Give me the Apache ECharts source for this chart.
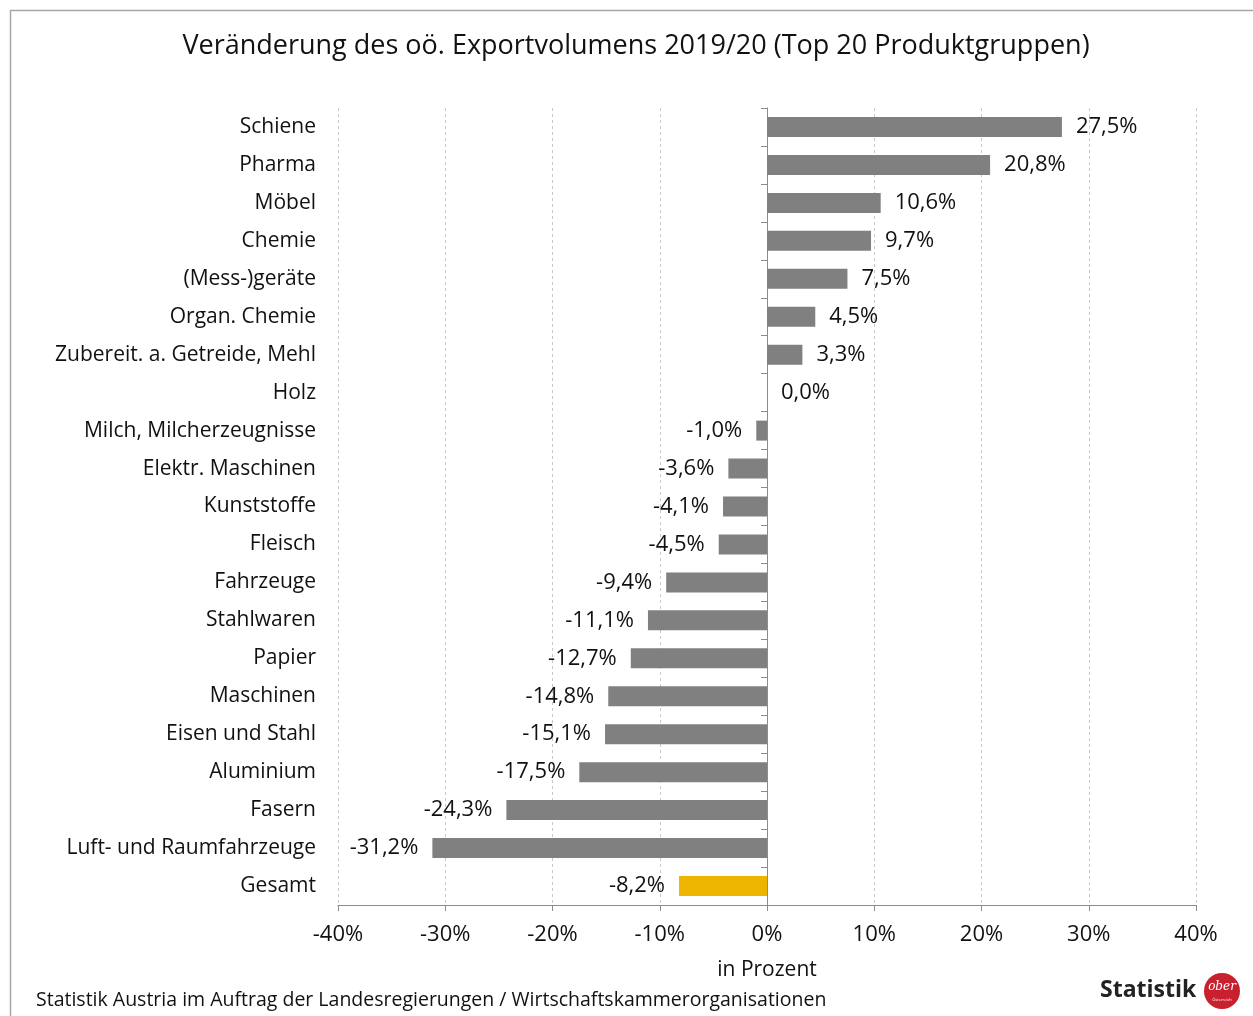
<!DOCTYPE html>
<html>
<head>
<meta charset="utf-8">
<script src="https://cdn.jsdelivr.net/npm/echarts@6/dist/echarts.min.js"></script>
<style>
  html, body { margin: 0; padding: 0; background: #fff; }
  #main { width: 1253px; height: 1016px; }
</style>
</head>
<body>
<div id="main"></div>
<script>
var categories = ['Schiene', 'Pharma', 'Möbel', 'Chemie', '(Mess-)geräte', 'Organ. Chemie',
  'Zubereit. a. Getreide, Mehl', 'Holz', 'Milch, Milcherzeugnisse', 'Elektr. Maschinen',
  'Kunststoffe', 'Fleisch', 'Fahrzeuge', 'Stahlwaren', 'Papier', 'Maschinen',
  'Eisen und Stahl', 'Aluminium', 'Fasern', 'Luft- und Raumfahrzeuge', 'Gesamt'];
var values = [27.5, 20.8, 10.6, 9.7, 7.5, 4.5, 3.3, 0.0, -1.0, -3.6, -4.1, -4.5, -9.4,
  -11.1, -12.7, -14.8, -15.1, -17.5, -24.3, -31.2, -8.2];
var xTicks = [-40, -30, -20, -10, 0, 10, 20, 30, 40];

var fontFam = 'Open Sans';
var dom = document.getElementById('main');
var myChart = echarts.init(dom);

function fmt(v) {
  return v.toFixed(1).replace('.', ',') + '%';
}

var barData = values.map(function (v, i) {
  return {
    value: v,
    itemStyle: { color: categories[i] === 'Gesamt' ? '#EEB500' : '#808080' },
    label: { position: v < 0 ? 'left' : 'right' }
  };
});

// plot area: -40% at x=338, +40% at x=1196 -> zero line at 767
var gridLeft = 338, gridRight = 57;
var zeroOffset = -(1253 - gridLeft - gridRight) / 2;

var option = {
  animation: false,
  textStyle: { fontFamily: fontFam },
  title: {
    text: 'Veränderung des oö. Exportvolumens 2019/20 (Top 20 Produktgruppen)',
    left: 631, top: 28, textAlign: 'center',
    textStyle: { fontSize: 27, fontWeight: 'normal', color: '#111', fontFamily: fontFam }
  },
  grid: { left: gridLeft, right: gridRight, top: 108, bottom: 111, containLabel: false },
  xAxis: {
    type: 'value',
    min: xTicks[0], max: xTicks[xTicks.length - 1], interval: 10,
    name: 'in Prozent', nameLocation: 'middle', nameGap: 55,
    nameTextStyle: { fontSize: 21, color: '#111' },
    axisLine: { show: true, lineStyle: { color: '#8c8c8c', width: 1 } },
    axisTick: { show: true, length: 6, lineStyle: { color: '#8c8c8c' } },
    axisLabel: { fontSize: 22, color: '#111', margin: 19,
      formatter: function (v) { return v + '%'; } },
    splitLine: { show: true, lineStyle: { color: '#c8c8c8', type: [3, 3], width: 1 } }
  },
  yAxis: [{
    type: 'category', data: categories, inverse: true,
    axisLine: { show: false }, axisTick: { show: false },
    axisLabel: { fontSize: 21, color: '#111', margin: 22, lineHeight: 26, padding: [5, 0, 0, 0] }
  }, {
    type: 'category', data: categories, inverse: true, position: 'left',
    offset: zeroOffset,
    axisLine: { show: true, onZero: false, lineStyle: { color: '#8c8c8c' } },
    axisTick: { show: true, length: 6, lineStyle: { color: '#8c8c8c' } },
    axisLabel: { show: false }
  }],
  series: [{
    type: 'bar', yAxisIndex: 0, data: barData, barWidth: 20,
    label: { show: true, distance: 14, fontSize: 22, color: '#111', padding: [3, 0, 0, 0],
      formatter: function (p) { return fmt(p.value); } }
  }],
  graphic: [
    { type: 'rect', left: 8, top: 8, shape: { width: 1300, height: 1100 },
      style: { fill: 'none', stroke: '#a6a6a6', lineWidth: 1.5 }, silent: true },
    { type: 'text', left: 36, top: 990,
      style: { text: 'Statistik Austria im Auftrag der Landesregierungen / Wirtschaftskammerorganisationen',
        font: '19.5px "' + fontFam + '"', fill: '#111' } },
    { type: 'text', left: 1100, top: 979,
      style: { text: 'Statistik', font: 'bold 23px "' + fontFam + '"', fill: '#222' } },
    { type: 'circle', shape: { cx: 1222, cy: 991, r: 18 }, style: { fill: '#C8202F' } },
    { type: 'text', x: 1222, y: 987,
      style: { text: 'ober', font: 'italic 12px "DejaVu Serif"', fill: '#fff', align: 'center', verticalAlign: 'middle' } },
    { type: 'text', x: 1222, y: 1000,
      style: { text: 'Österreich', font: '4px "' + fontFam + '"', fill: '#fff', align: 'center', verticalAlign: 'middle' } }
  ]
};

myChart.setOption(option);
window.onresize = function () { myChart.resize(); };
</script>
</body>
</html>
